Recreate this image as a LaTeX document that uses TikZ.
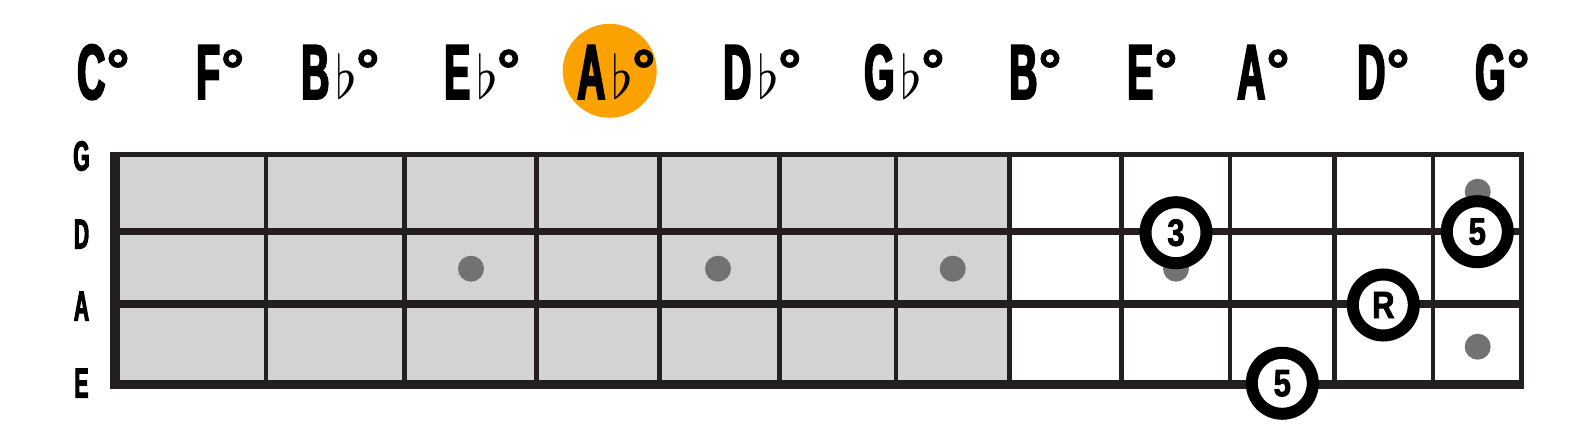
\documentclass[tikz,border=0pt]{standalone}
\usepackage{fontspec}
\usepackage{graphicx}
\newfontfamily\condfont{Liberation Sans}[FakeStretch=0.5, BoldFeatures={FakeBold=2.5}]
\newfontfamily\circfont{Liberation Sans}[FakeStretch=0.82, BoldFeatures={FakeBold=2}]
\newfontfamily\degfont{Liberation Sans}[BoldFeatures={FakeBold=1.5}]
\definecolor{lineclr}{RGB}{35,31,32}
\definecolor{fretfill}{RGB}{211,211,211}
\definecolor{dotclr}{RGB}{114,114,114}
\definecolor{hiclr}{RGB}{251,161,0}
\newcommand\flt{\hspace{6pt}{\fontsize{10}{12}\selectfont\scalebox{5.6}[6]{$\flat$}}\hspace{-2pt}}
\newcommand\dg{\hspace{1pt}\raisebox{9pt}{\degfont\bfseries\fontsize{58}{58}\selectfont °}}
\begin{document}
\begin{tikzpicture}[x=1pt,y=-1pt,
  fretline/.style={draw=lineclr, line width=4.5pt},
  dot/.style={circle, fill=dotclr, minimum size=26pt, inner sep=0pt},
  tone/.style={circle, draw=black, line width=12pt, fill=white, minimum size=61pt, inner sep=0pt,
    font=\circfont\bfseries\fontsize{38}{38}\selectfont},
  notelab/.style={anchor=base west, inner sep=0pt, font=\condfont\bfseries\fontsize{78}{78}\selectfont},
  strlab/.style={anchor=base, inner sep=0pt, font=\condfont\bfseries\fontsize{42}{42}\selectfont},
  hilite/.style={circle, fill=hiclr, minimum size=94pt, inner sep=0pt}]
\useasboundingbox (0,0) rectangle (1595,428);
% highlighted key
\node[hilite] (hl) at (609.7,70.8) {};
% chord labels
\node[notelab] (nC)  at (77,99)   {C\dg};
\node[notelab] (nF)  at (196,99)  {F\dg};
\node[notelab] (nBb) at (301,99)  {B\flt\dg};
\node[notelab] (nEb) at (444,99)  {E\flt\dg};
\node[notelab] (nAb) at (577,99)  {A\flt\dg};
\node[notelab] (nDb) at (723,99)  {D\flt\dg};
\node[notelab] (nGb) at (864,99)  {G\flt\dg};
\node[notelab] (nB)  at (1009,99) {B\dg};
\node[notelab] (nE)  at (1127,99) {E\dg};
\node[notelab] (nA)  at (1237,99) {A\dg};
\node[notelab] (nD)  at (1357,99) {D\dg};
\node[notelab] (nG)  at (1475,99) {G\dg};
% string names
\node[strlab] (sG) at (81.5,170.5) {G};
\node[strlab] (sD) at (81.5,248.5) {D};
\node[strlab] (sA) at (81.5,320.5) {A};
\node[strlab] (sE) at (81.5,397.5) {E};
% fretboard
\fill[fretfill] (115,154) rectangle (1009.5,384);
\foreach \x in {266,404.5,536.5,659.5,779.5,896,1009.5,1121.7,1230,1334.7,1432.8}
  \draw[fretline] (\x,152) -- (\x,389);
\foreach \y/\w in {154.2/5, 231.5/7.5, 304/8, 384.6/9.4}
  \draw[lineclr, line width=\w pt] (110,\y) -- (1524,\y);
\draw[lineclr, line width=10pt] (115,151.7) -- (115,389.3);
\draw[lineclr, line width=5pt] (1521.5,151.7) -- (1521.5,389.3);
% position dots
\node[dot] (d1) at (471,268.7) {};
\node[dot] (d2) at (718,268.7) {};
\node[dot] (d3) at (952.7,268.7) {};
\node[dot] (d4) at (1176,268.7) {};
\node[dot] (d5) at (1477.7,191.7) {};
\node[dot] (d6) at (1477.7,346.7) {};
% chord tones
\node[tone] (t3)  at (1176,232.7)   {3};
\node[tone] (t5a) at (1477.3,231.7) {5};
\node[tone] (tR)  at (1383.3,305)   {R};
\node[tone] (t5b) at (1282.3,383.3) {5};
\end{tikzpicture}
\end{document}
